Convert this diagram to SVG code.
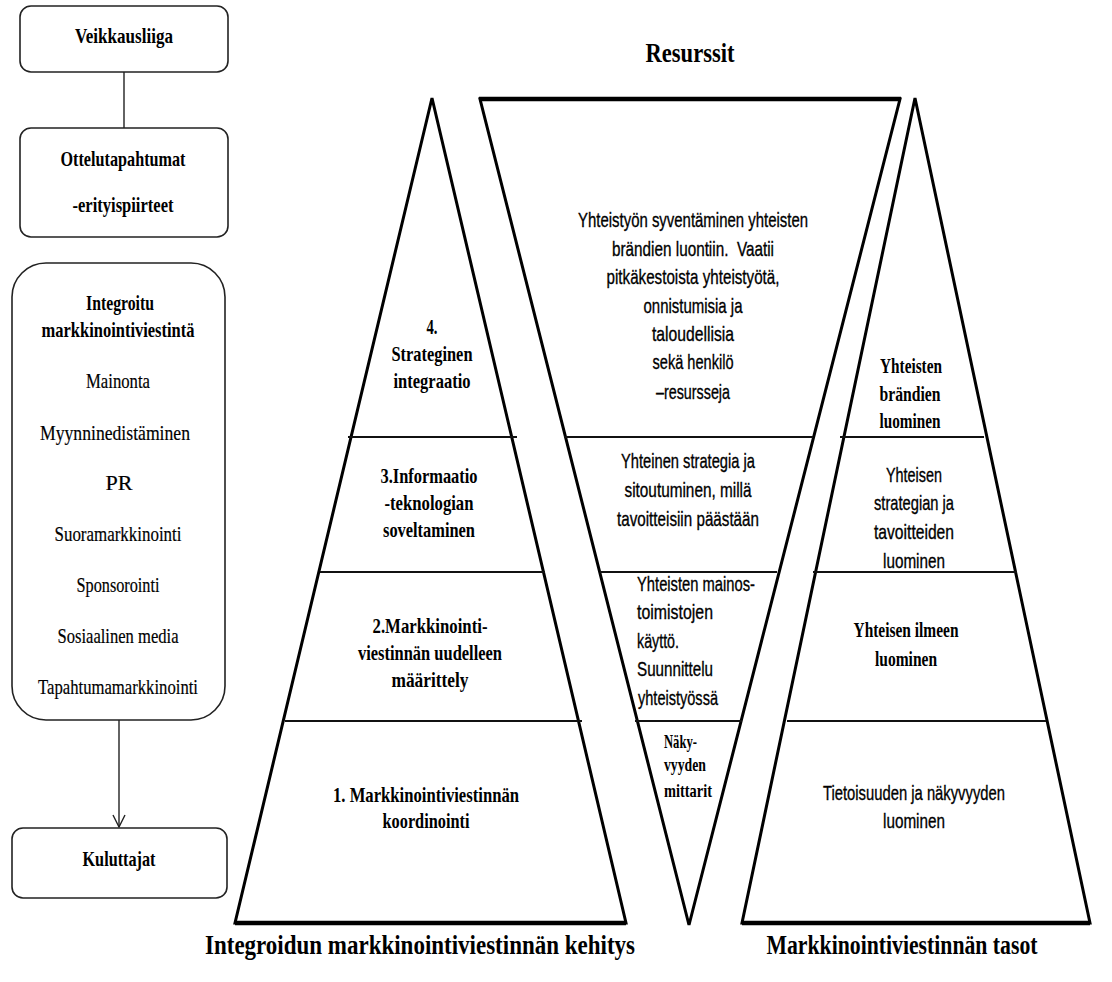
<svg xmlns="http://www.w3.org/2000/svg" width="1112" height="982" viewBox="0 0 1112 982">
<style>
.box{fill:#fff;stroke:#222;stroke-width:1.6}
.shape{fill:#fff;stroke:#000;stroke-width:3;stroke-linejoin:miter}
.div{stroke:#111;stroke-width:2}
.thick{stroke:#000;stroke-width:4.5}
.conn{stroke:#222;stroke-width:1.4;fill:none}
text{fill:#000;text-anchor:middle}
.sb{font-family:"Liberation Serif","Times New Roman",serif;font-weight:bold;font-size:22px}
.sr{font-family:"Liberation Serif","Times New Roman",serif;font-size:22px;stroke:#000;stroke-width:0.2}
.ss{font-family:"Liberation Sans",Arial,sans-serif;font-size:21px;stroke:#000;stroke-width:0.35}
.sbs{font-family:"Liberation Serif","Times New Roman",serif;font-weight:bold;font-size:19px}
.big{font-family:"Liberation Serif","Times New Roman",serif;font-weight:bold;font-size:27px}
.l{text-anchor:start}
</style>
<defs>
<marker id="arr" viewBox="0 0 14 14" refX="13" refY="7" markerWidth="14" markerHeight="14" markerUnits="userSpaceOnUse" orient="auto">
<path d="M1,1 L13,7 L1,13" fill="none" stroke="#222" stroke-width="1.4"/>
</marker>
</defs>
<rect width="1112" height="982" fill="#fff"/>

<g id="connectors">
<line class="conn" x1="124" y1="72" x2="124" y2="128"/>
<line class="conn" x1="119" y1="720" x2="119" y2="827" marker-end="url(#arr)"/>
</g>

<g id="veikkausliiga">
<rect class="box" x="20" y="6" width="208" height="66" rx="11"/>
<text class="sb" x="124" y="43" textLength="98" lengthAdjust="spacingAndGlyphs">Veikkausliiga</text>
</g>

<g id="ottelutapahtumat">
<rect class="box" x="20" y="128" width="208" height="109" rx="11"/>
<text class="sb" x="123" y="166" textLength="125" lengthAdjust="spacingAndGlyphs">Ottelutapahtumat</text>
<text class="sb" x="123" y="212" textLength="101" lengthAdjust="spacingAndGlyphs">-erityispiirteet</text>
</g>

<g id="integroitu">
<rect class="box" x="12" y="263" width="213" height="457" rx="34"/>
<text class="sb" x="120" y="310" textLength="68" lengthAdjust="spacingAndGlyphs">Integroitu</text>
<text class="sb" x="118" y="337" textLength="153" lengthAdjust="spacingAndGlyphs">markkinointiviestintä</text>
<text class="sr" x="118" y="388" textLength="64" lengthAdjust="spacingAndGlyphs">Mainonta</text>
<text class="sr" x="115" y="440" textLength="150" lengthAdjust="spacingAndGlyphs">Myynninedistäminen</text>
<text class="sr" x="119" y="490" textLength="27" lengthAdjust="spacingAndGlyphs">PR</text>
<text class="sr" x="118" y="541" textLength="127" lengthAdjust="spacingAndGlyphs">Suoramarkkinointi</text>
<text class="sr" x="118" y="592" textLength="83" lengthAdjust="spacingAndGlyphs">Sponsorointi</text>
<text class="sr" x="118" y="643" textLength="121" lengthAdjust="spacingAndGlyphs">Sosiaalinen media</text>
<text class="sr" x="118" y="694" textLength="160" lengthAdjust="spacingAndGlyphs">Tapahtumamarkkinointi</text>
</g>

<g id="kuluttajat">
<rect class="box" x="12" y="828" width="215" height="70" rx="11"/>
<text class="sb" x="119" y="866" textLength="73" lengthAdjust="spacingAndGlyphs">Kuluttajat</text>
</g>

<g id="title-resurssit">
<text class="big" x="690" y="62" textLength="89" lengthAdjust="spacingAndGlyphs">Resurssit</text>
</g>

<g id="kehitys-triangle">
<polygon class="shape" points="432,98 626,923 235,923"/>
<line class="thick" x1="235" y1="923" x2="626" y2="923"/>
<line class="div" x1="348" y1="437" x2="517" y2="437"/>
<line class="div" x1="320" y1="572" x2="545" y2="572"/>
<line class="div" x1="285" y1="721" x2="582" y2="721"/>
<text class="sb" x="432" y="334" textLength="11" lengthAdjust="spacingAndGlyphs">4.</text>
<text class="sb" x="432" y="361" textLength="81" lengthAdjust="spacingAndGlyphs">Strateginen</text>
<text class="sb" x="432" y="388" textLength="77" lengthAdjust="spacingAndGlyphs">integraatio</text>
<text class="sb" x="429" y="483" textLength="97" lengthAdjust="spacingAndGlyphs">3.Informaatio</text>
<text class="sb" x="429" y="510" textLength="89" lengthAdjust="spacingAndGlyphs">-teknologian</text>
<text class="sb" x="429" y="537" textLength="92" lengthAdjust="spacingAndGlyphs">soveltaminen</text>
<text class="sb" x="430" y="633" textLength="115" lengthAdjust="spacingAndGlyphs">2.Markkinointi-</text>
<text class="sb" x="430" y="660" textLength="144" lengthAdjust="spacingAndGlyphs">viestinnän uudelleen</text>
<text class="sb" x="430" y="687" textLength="77" lengthAdjust="spacingAndGlyphs">määrittely</text>
<text class="sb" x="426" y="802" textLength="186" lengthAdjust="spacingAndGlyphs">1. Markkinointiviestinnän</text>
<text class="sb" x="426" y="828" textLength="87" lengthAdjust="spacingAndGlyphs">koordinointi</text>
</g>

<g id="resurssit-triangle">
<polygon class="shape" points="480,99 900,99 689,925"/>
<line class="thick" x1="479" y1="99" x2="901" y2="99"/>
<line class="div" x1="564" y1="437" x2="813" y2="437"/>
<line class="div" x1="600" y1="572" x2="777" y2="572"/>
<line class="div" x1="635" y1="721" x2="742" y2="721"/>
<text class="ss" x="693" y="227" textLength="230" lengthAdjust="spacingAndGlyphs">Yhteistyön syventäminen yhteisten</text>
<text class="ss" x="693" y="256" textLength="162" lengthAdjust="spacingAndGlyphs" xml:space="preserve">brändien luontiin.  Vaatii</text>
<text class="ss" x="693" y="284" textLength="173" lengthAdjust="spacingAndGlyphs">pitkäkestoista yhteistyötä,</text>
<text class="ss" x="693" y="313" textLength="99" lengthAdjust="spacingAndGlyphs">onnistumisia ja</text>
<text class="ss" x="693" y="341" textLength="82" lengthAdjust="spacingAndGlyphs">taloudellisia</text>
<text class="ss" x="693" y="369" textLength="81" lengthAdjust="spacingAndGlyphs">sekä henkilö</text>
<text class="ss" x="693" y="399" textLength="74" lengthAdjust="spacingAndGlyphs">–resursseja</text>
<text class="ss" x="688" y="468" textLength="134" lengthAdjust="spacingAndGlyphs">Yhteinen strategia ja</text>
<text class="ss" x="688" y="497" textLength="127" lengthAdjust="spacingAndGlyphs">sitoutuminen, millä</text>
<text class="ss" x="688" y="526" textLength="142" lengthAdjust="spacingAndGlyphs">tavoitteisiin päästään</text>
<text class="ss l" x="637" y="591" textLength="118" lengthAdjust="spacingAndGlyphs">Yhteisten mainos-</text>
<text class="ss l" x="637" y="619" textLength="76" lengthAdjust="spacingAndGlyphs">toimistojen</text>
<text class="ss l" x="637" y="648" textLength="42" lengthAdjust="spacingAndGlyphs">käyttö.</text>
<text class="ss l" x="637" y="676" textLength="76" lengthAdjust="spacingAndGlyphs">Suunnittelu</text>
<text class="ss l" x="638" y="705" textLength="80" lengthAdjust="spacingAndGlyphs">yhteistyössä</text>
<text class="sbs l" x="664" y="748" textLength="33" lengthAdjust="spacingAndGlyphs">Näky-</text>
<text class="sbs l" x="664" y="771" textLength="42" lengthAdjust="spacingAndGlyphs">vyyden</text>
<text class="sbs l" x="664" y="797" textLength="48" lengthAdjust="spacingAndGlyphs">mittarit</text>
</g>

<g id="tasot-triangle">
<polygon class="shape" points="915,98 1090,923 742,923"/>
<line class="thick" x1="742" y1="923" x2="1090" y2="923"/>
<line class="div" x1="840" y1="437" x2="984" y2="437"/>
<line class="div" x1="813" y1="572" x2="1017" y2="572"/>
<line class="div" x1="787" y1="721" x2="1046" y2="721"/>
<text class="sb" x="911" y="373" textLength="62" lengthAdjust="spacingAndGlyphs">Yhteisten</text>
<text class="sb" x="910" y="401" textLength="61" lengthAdjust="spacingAndGlyphs">brändien</text>
<text class="sb" x="910" y="428" textLength="61" lengthAdjust="spacingAndGlyphs">luominen</text>
<text class="ss" x="914" y="482" textLength="56" lengthAdjust="spacingAndGlyphs">Yhteisen</text>
<text class="ss" x="914" y="510" textLength="80" lengthAdjust="spacingAndGlyphs">strategian ja</text>
<text class="ss" x="914" y="539" textLength="80" lengthAdjust="spacingAndGlyphs">tavoitteiden</text>
<text class="ss" x="914" y="568" textLength="62" lengthAdjust="spacingAndGlyphs">luominen</text>
<text class="sb" x="906" y="637" textLength="105" lengthAdjust="spacingAndGlyphs">Yhteisen ilmeen</text>
<text class="sb" x="906" y="666" textLength="62" lengthAdjust="spacingAndGlyphs">luominen</text>
<text class="ss" x="914" y="800" textLength="182" lengthAdjust="spacingAndGlyphs">Tietoisuuden ja näkyvyyden</text>
<text class="ss" x="914" y="828" textLength="62" lengthAdjust="spacingAndGlyphs">luominen</text>
</g>

<g id="bottom-labels">
<text class="big" x="420" y="954" textLength="430" lengthAdjust="spacingAndGlyphs">Integroidun markkinointiviestinnän kehitys</text>
<text class="big" x="902" y="954" textLength="271" lengthAdjust="spacingAndGlyphs">Markkinointiviestinnän tasot</text>
</g>
</svg>
